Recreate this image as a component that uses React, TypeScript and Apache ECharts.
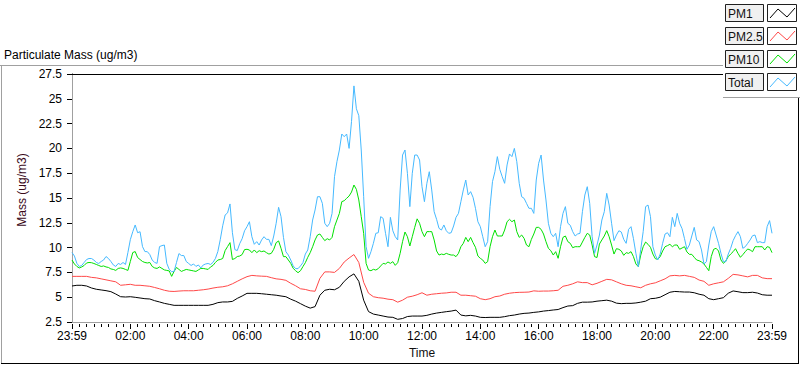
import React, { useEffect, useRef } from 'react';
import * as echarts from 'echarts';

const SERIES_NAMES = ['PM1', 'PM2.5', 'PM10', 'Total'];
const SERIES_COLORS = ['#000000', '#ff4848', '#00e000', '#45b9ff'];
const TIME_LABELS = ['23:59', '02:00', '04:00', '06:00', '08:00', '10:00', '12:00', '14:00', '16:00', '18:00', '20:00', '22:00', '23:59'];
const Y_MIN = 2.5;
const Y_MAX = 27.5;
const Y_STEP = 2.5;
const X_MAX_MIN = 1440;
const COARSE_STEP = 10; // minutes between PM1 / PM2.5 samples
const FINE_STEP = 5; // minutes between PM10 / Total samples

const PM1 = [
  6.13, 6.2, 6.2, 6.13, 5.93, 5.8, 5.73, 5.66, 5.56, 5.32, 5.05, 5.02,
  5.05, 4.99, 4.92, 4.85, 4.82, 4.65, 4.52, 4.38, 4.28, 4.18, 4.18, 4.18,
  4.18, 4.18, 4.18, 4.18, 4.18, 4.28, 4.45, 4.52, 4.52, 4.58, 4.88, 5.12,
  5.39, 5.39, 5.39, 5.35, 5.3, 5.25, 5.2, 5.12, 5.05, 4.8, 4.6, 4.35,
  4.1, 3.9, 4.05, 5.2, 5.7, 5.8, 5.75, 6.0, 6.6, 7.05, 7.35, 6.6,
  4.7, 3.55, 3.3, 3.2, 3.1, 3.0, 2.97, 2.77, 2.85, 3.05, 3.1, 3.1,
  3.1, 3.17, 3.3, 3.4, 3.47, 3.54, 3.6, 3.7, 3.2, 3.12, 3.17, 3.1,
  2.97, 2.95, 2.97, 2.97, 2.97, 3.04, 3.14, 3.2, 3.3, 3.37, 3.4, 3.47,
  3.52, 3.6, 3.65, 3.71, 3.76, 3.95, 4.11, 4.15, 4.38, 4.5, 4.5, 4.52,
  4.6, 4.65, 4.7, 4.6, 4.4, 4.35, 4.38, 4.38, 4.42, 4.5, 4.6, 4.85,
  4.89, 5.0, 5.25, 5.5, 5.58, 5.55, 5.52, 5.52, 5.45, 5.3, 5.2, 4.85,
  4.75, 4.85, 4.95, 5.4, 5.63, 5.55, 5.46, 5.46, 5.5, 5.42, 5.25, 5.2,
  5.2,
];

const PM25 = [
  7.1, 7.1, 7.1, 7.1, 7.0, 6.95, 6.85, 6.75, 6.65, 6.55, 6.2, 6.25,
  6.3, 6.2, 6.2, 6.15, 6.1, 5.98, 5.85, 5.7, 5.6, 5.58, 5.62, 5.65,
  5.65, 5.65, 5.7, 5.75, 5.82, 5.92, 6.0, 6.05, 6.15, 6.35, 6.6, 6.85,
  7.07, 7.2, 7.15, 7.12, 7.1, 6.97, 6.85, 6.8, 6.7, 6.4, 6.15, 5.85,
  5.78, 5.65, 5.6, 6.9, 7.55, 7.55, 7.5, 7.9, 8.55, 8.95, 9.3, 8.5,
  6.5, 5.4, 5.05, 4.95, 4.9, 4.8, 4.75, 4.5, 4.7, 5.0, 5.1, 5.25,
  5.45, 5.2, 5.3, 5.35, 5.4, 5.43, 5.5, 5.5, 5.2, 5.2, 5.15, 5.1,
  4.85, 4.75, 4.85, 5.05, 5.12, 5.3, 5.4, 5.46, 5.49, 5.5, 5.52, 5.64,
  5.6, 5.62, 5.62, 5.65, 5.7, 6.1, 6.2, 6.35, 6.55, 6.47, 6.47, 6.25,
  6.4, 6.6, 6.8, 6.75, 6.55, 6.35, 6.2, 6.15, 6.05, 5.95, 6.2, 6.35,
  6.45, 6.65, 6.85, 7.15, 7.2, 7.15, 7.2, 7.1, 7.0, 6.73, 6.6, 6.2,
  6.35, 6.45, 6.55, 6.9, 7.3, 7.25, 7.15, 7.05, 7.2, 7.2, 6.95, 6.87,
  6.87,
];

const PM10 = [
  8.75, 8.35, 8.1, 7.95, 8.05, 8.2, 8.45, 8.5, 8.48, 8.4, 8.3, 8.2,
  8.1, 8.15, 8.05, 8.0, 7.85, 7.8, 7.7, 7.9, 7.95, 7.9, 7.8, 7.7,
  8.6, 9.5, 9.6, 9.0, 8.8, 8.6, 8.5, 8.45, 8.5, 8.1, 7.95, 7.9,
  8.05, 7.9, 7.75, 7.7, 7.65, 7.1, 7.6, 8.0, 7.8, 7.6, 7.7, 7.8,
  7.75, 7.7, 7.65, 7.6, 7.75, 7.9, 7.9, 7.85, 7.8, 8.05, 8.2, 8.5,
  8.75, 8.8, 8.9, 9.7, 10.1, 10.5, 8.8, 8.9, 9.1, 9.15, 9.3, 9.8,
  9.83, 9.76, 9.49, 9.76, 9.49, 9.69, 9.59, 9.66, 9.49, 9.35, 9.42, 9.83,
  10.5, 10.67, 9.93, 9.09, 9.09, 8.75, 8.41, 7.91, 7.67, 7.47, 7.67, 8.08,
  8.48, 9.02, 9.49, 10.09, 10.77, 11.27, 11.37, 11.03, 10.7, 10.9, 10.77, 11.03,
  12.11, 12.78, 13.45, 14.63, 14.73, 14.97, 15.2, 15.6, 16.31, 15.87, 14.8, 13.12,
  11.44, 8.41, 7.74, 7.67, 7.81, 7.74, 7.88, 8.15, 8.41, 8.35, 8.55, 8.41,
  8.58, 8.21, 8.48, 9.42, 10.6, 11.57, 11.1, 10.16, 11.1, 12.04, 12.9, 12.45,
  11.61, 11.1, 11.61, 11.61, 11.61, 10.77, 9.66, 9.25, 9.35, 9.29, 9.42, 9.32,
  9.25, 9.25, 9.09, 9.42, 10.09, 10.43, 11.03, 10.6, 11.03, 10.5, 10.03, 9.15,
  8.92, 8.75, 8.41, 8.58, 10.09, 11.1, 11.77, 11.17, 11.17, 11.17, 11.77, 12.61,
  12.85, 12.61, 12.78, 11.61, 11.03, 11.27, 10.93, 10.26, 10.09, 10.83, 11.37, 12.04,
  12.04, 11.84, 11.37, 10.6, 9.93, 9.69, 9.25, 9.59, 8.92, 10.09, 11.03, 11.17,
  10.6, 10.43, 9.99, 10.09, 10.09, 10.09, 10.56, 11.03, 11.44, 11.27, 10.26, 9.09,
  9.0, 10.36, 10.77, 11.17, 11.71, 11.1, 10.26, 9.35, 9.89, 9.83, 9.66, 9.22,
  9.49, 9.42, 9.59, 9.09, 8.35, 8.08, 9.25, 10.09, 10.56, 10.33, 10.03, 9.35,
  8.88, 8.82, 9.09, 9.66, 10.09, 10.2, 10.33, 10.09, 10.26, 10.26, 9.83, 9.96,
  10.09, 9.56, 9.32, 9.32, 9.02, 8.75, 8.68, 8.55, 8.35, 8.01, 7.67, 9.09,
  9.83, 9.93, 9.66, 8.75, 8.41, 8.65, 9.09, 9.35, 9.59, 9.89, 9.42, 9.02,
  9.29, 9.59, 9.86, 9.76, 9.59, 10.09, 10.09, 10.09, 10.09, 9.76, 10.09, 10.03,
  9.49,
];

const TOTAL = [
  9.5, 9.15, 8.41, 8.1, 8.2, 8.5, 8.8, 8.9, 8.9, 8.75, 8.5, 8.4,
  8.6, 8.75, 9.1, 8.9, 8.6, 8.25, 8.1, 8.4, 8.3, 8.5, 8.3, 9.5,
  10.8, 11.6, 12.28, 11.5, 11.6, 10.1, 9.6, 9.59, 9.3, 8.75, 8.5, 8.41,
  10.1, 10.2, 10.26, 8.41, 7.8, 7.57, 7.6, 8.5, 9.4, 9.2, 9.2, 8.6,
  8.4, 8.2, 8.35, 8.1, 8.25, 7.95, 8.25, 8.35, 8.4, 8.3, 8.5, 8.9,
  9.6, 10.8, 12.2, 13.29, 13.5, 14.4, 11.5, 9.8, 9.7, 10.4, 10.9, 11.7,
  12.11, 12.61, 11.1, 10.33, 10.6, 10.26, 10.77, 11.1, 10.83, 10.83, 10.2, 11.17,
  12.45, 14.06, 13.12, 11.03, 9.59, 9.25, 8.75, 8.15, 7.88, 7.88, 8.15, 8.48,
  9.35, 9.76, 11.1, 12.78, 13.79, 15.13, 15.13, 14.46, 12.45, 12.11, 12.45, 13.45,
  17.15, 18.66, 19.84, 21.45, 21.18, 21.45, 20.0, 22.7, 26.3, 24.0, 23.3, 19.84,
  15.13, 10.09, 8.92, 9.59, 10.43, 11.44, 11.5, 13.12, 12.95, 11.44, 10.09, 13.05,
  11.7, 11.1, 10.77, 15.8, 19.33, 19.84, 17.49, 14.13, 17.49, 19.33, 19.33, 18.83,
  16.14, 14.63, 16.48, 17.65, 15.81, 13.62, 12.85, 11.94, 11.77, 12.28, 11.7, 11.44,
  11.5, 12.18, 13.05, 13.45, 14.63, 15.81, 16.81, 15.3, 15.64, 15.07, 13.96, 12.61,
  12.11, 11.1, 10.09, 10.6, 14.13, 16.65, 17.65, 19.17, 17.89, 17.15, 16.48, 18.33,
  19.44, 19.17, 20.0, 18.66, 16.48, 15.13, 14.97, 14.46, 13.96, 13.96, 13.45, 16.81,
  18.5, 19.33, 16.81, 14.8, 12.45, 11.44, 11.1, 11.44, 10.09, 12.11, 13.45, 14.13,
  12.45, 12.25, 11.61, 11.17, 11.37, 11.44, 13.62, 15.3, 16.14, 14.46, 11.1, 9.42,
  10.26, 11.27, 12.78, 13.62, 15.47, 14.29, 12.45, 10.7, 11.27, 11.7, 11.57, 10.83,
  10.43, 11.84, 12.11, 10.9, 9.42, 8.08, 9.83, 11.61, 14.13, 14.29, 13.12, 10.09,
  9.25, 8.75, 9.35, 10.43, 11.37, 11.5, 11.1, 13.05, 12.11, 13.45, 12.45, 11.91,
  10.9, 9.83, 10.26, 11.17, 12.04, 10.77, 10.6, 9.76, 8.35, 8.58, 10.26, 11.61,
  12.11, 11.27, 10.43, 9.42, 8.58, 8.58, 9.35, 9.93, 10.7, 11.2, 11.61, 11.1,
  9.93, 10.09, 10.43, 10.77, 11.2, 11.27, 10.5, 10.6, 10.5, 10.5, 12.11, 12.72,
  11.44,
];

const SERIES_DATA = [
  { values: PM1, step: COARSE_STEP },
  { values: PM25, step: COARSE_STEP },
  { values: PM10, step: FINE_STEP },
  { values: TOTAL, step: FINE_STEP },
];

const FONT = '"Liberation Sans", Arial, sans-serif';

export default function App() {
  const ref = useRef<HTMLDivElement>(null);

  useEffect(() => {
    document.body.style.margin = '0';
    if (!ref.current) return;
    const chart = echarts.init(ref.current, undefined, { renderer: 'svg' });

    const legendGraphics: any[] = [
      { type: 'rect', z: 100, shape: { x: 723, y: 0, width: 77, height: 97 }, style: { fill: '#ffffff' } },
      { type: 'line', z: 101, shape: { x1: 723, y1: 97.5, x2: 800, y2: 97.5 }, style: { stroke: '#a0a0a0', lineWidth: 1 } },
    ];
    SERIES_NAMES.forEach((name, i) => {
      const top = 4 + 23 * i;
      legendGraphics.push(
        { type: 'rect', z: 101, shape: { x: 725.5, y: top + 0.5, width: 38, height: 17 }, style: { fill: '#f0f0f0', stroke: '#202020', lineWidth: 1 } },
        { type: 'text', z: 102, x: 728, y: top + 9.5, style: { text: name, fill: '#101010', font: `12px ${FONT}`, verticalAlign: 'middle' } },
        { type: 'rect', z: 101, shape: { x: 767.5, y: top + 0.5, width: 29, height: 17 }, style: { fill: '#ffffff', stroke: '#202020', lineWidth: 1 } },
        { type: 'polyline', z: 102, shape: { points: [[770, top + 14], [778, top + 5], [787, top + 13], [795, top + 4]] }, style: { stroke: SERIES_COLORS[i], lineWidth: 1, fill: 'none' } },
      );
    });

    const frame: any[] = [
      { type: 'line', z: 90, shape: { x1: 0, y1: 65.5, x2: 723, y2: 65.5 }, style: { stroke: '#a0a0a0', lineWidth: 1 } },
      { type: 'line', z: 90, shape: { x1: 1.5, y1: 65, x2: 1.5, y2: 363 }, style: { stroke: '#a0a0a0', lineWidth: 1 } },
      { type: 'line', z: 90, shape: { x1: 1, y1: 363.5, x2: 799, y2: 363.5 }, style: { stroke: '#000000', lineWidth: 1 } },
      { type: 'line', z: 90, shape: { x1: 798.5, y1: 97, x2: 798.5, y2: 364 }, style: { stroke: '#000000', lineWidth: 1 } },
    ];

    const hiddenAxisParts = { axisTick: { show: false }, axisLabel: { show: false }, splitLine: { show: false } };

    const option: any = {
      animation: false,
      backgroundColor: '#ffffff',
      textStyle: { fontFamily: FONT },
      title: {
        text: 'Particulate Mass (ug/m3)',
        left: 4,
        top: 49,
        padding: 0,
        textStyle: { fontSize: 12, fontWeight: 'normal', color: '#000000', fontFamily: FONT },
      },
      grid: { left: 72, top: 74, right: 28, bottom: 43 },
      xAxis: [
        {
          type: 'value', min: 0, max: X_MAX_MIN, interval: 120, position: 'bottom',
          axisLine: { show: true, lineStyle: { color: '#a0a0a0', width: 1 } },
          ...hiddenAxisParts,
        },
        {
          type: 'value', min: 0, max: X_MAX_MIN, interval: 120, position: 'bottom', offset: 2,
          axisLine: { show: false },
          axisTick: { show: true, length: 5, lineStyle: { color: '#000000', width: 1 } },
          minorTick: { show: true, splitNumber: 8, length: 3, lineStyle: { color: '#000000', width: 1 } },
          axisLabel: {
            margin: 6, color: '#000000', fontSize: 12, fontFamily: FONT,
            formatter: (v: number) => TIME_LABELS[Math.round(v / 120)] ?? '',
          },
          splitLine: { show: false },
          name: 'Time', nameLocation: 'middle', nameGap: 23,
          nameTextStyle: { color: '#101010', fontSize: 12, fontFamily: FONT },
        },
        {
          type: 'value', min: 0, max: X_MAX_MIN, position: 'top',
          axisLine: { show: true, lineStyle: { color: '#000000', width: 1 } },
          ...hiddenAxisParts,
        },
      ],
      yAxis: [
        {
          type: 'value', min: Y_MIN, max: Y_MAX, interval: Y_STEP, position: 'left',
          axisLine: { show: true, lineStyle: { color: '#000000', width: 1 } },
          ...hiddenAxisParts,
        },
        {
          type: 'value', min: Y_MIN, max: Y_MAX, interval: Y_STEP, position: 'left', offset: 3,
          axisLine: { show: false },
          axisTick: { show: true, length: 5, lineStyle: { color: '#000000', width: 1 } },
          axisLabel: { margin: 7, color: '#000000', fontSize: 12, fontFamily: FONT },
          splitLine: { show: false },
          name: 'Mass (ug/m3)', nameLocation: 'middle', nameGap: 30,
          nameTextStyle: { color: '#3a0a1a', fontSize: 12, fontFamily: FONT, padding: [0, 0, 0, 16] },
        },
        {
          type: 'value', min: Y_MIN, max: Y_MAX, interval: Y_STEP, position: 'right',
          axisLine: { show: true, lineStyle: { color: '#a0a0a0', width: 1 } },
          ...hiddenAxisParts,
        },
      ],
      series: SERIES_NAMES.map((name, i) => ({
        name,
        type: 'line',
        xAxisIndex: 0,
        yAxisIndex: 0,
        showSymbol: false,
        symbol: 'none',
        data: SERIES_DATA[i].values.map((v, k) => [k * SERIES_DATA[i].step, v]),
        lineStyle: { color: SERIES_COLORS[i], width: 1 },
        itemStyle: { color: SERIES_COLORS[i] },
        z: 2 + i,
      })),
      graphic: [...frame, ...legendGraphics],
    };

    chart.setOption(option);
    return () => chart.dispose();
  }, []);

  return <div ref={ref} style={{ position: 'fixed', left: 0, top: 0, width: 800, height: 365 }} />;
}
